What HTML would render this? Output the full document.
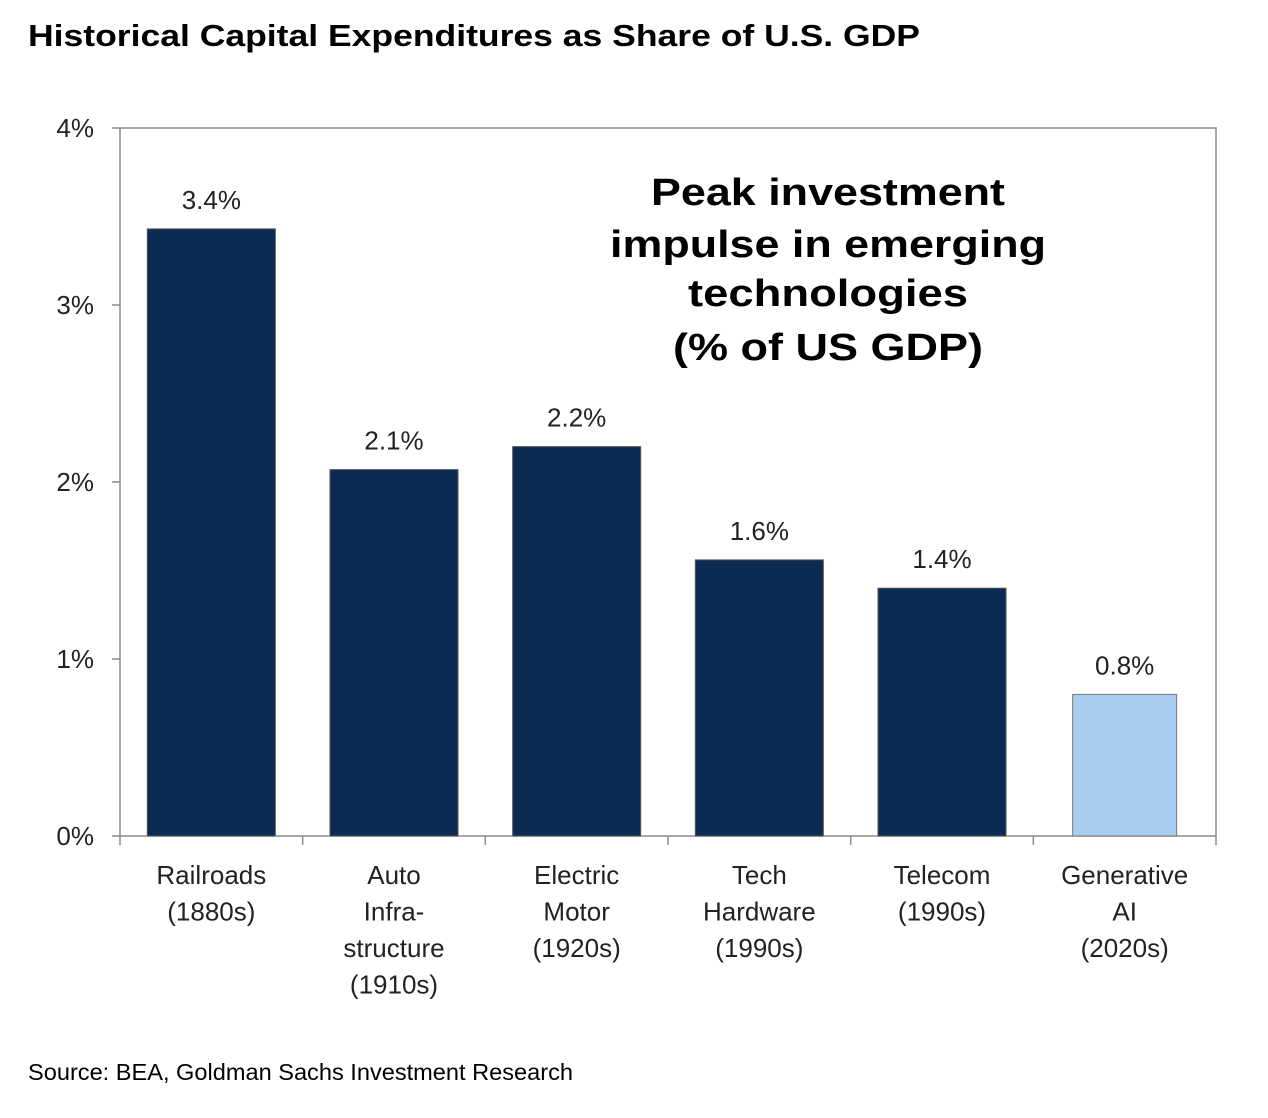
<!DOCTYPE html>
<html><head><meta charset="utf-8"><style>
body{margin:0;background:#fff;width:1268px;height:1118px;overflow:hidden}
svg{display:block}
</style></head><body>
<svg id="chart" width="1268" height="1118" font-family="Liberation Sans, Arial, sans-serif">
<text x="28" y="46" font-size="31" font-weight="bold" fill="#000" textLength="892" lengthAdjust="spacingAndGlyphs">Historical Capital Expenditures as Share of U.S. GDP</text>
<text x="28" y="1080" font-size="23" fill="#000" textLength="545" lengthAdjust="spacingAndGlyphs">Source: BEA, Goldman Sachs Investment Research</text>
<g font-size="38" font-weight="bold" fill="#000" text-anchor="middle">
<text x="828" y="205" textLength="354" lengthAdjust="spacingAndGlyphs">Peak investment</text>
<text x="828" y="257" textLength="436" lengthAdjust="spacingAndGlyphs">impulse in emerging</text>
<text x="828" y="306" textLength="280" lengthAdjust="spacingAndGlyphs">technologies</text>
<text x="828" y="360" textLength="310" lengthAdjust="spacingAndGlyphs">(% of US GDP)</text>
</g>
<g id="plot"></g>
</svg>
<script>
const categories=[["Railroads","(1880s)"],["Auto","Infra-","structure","(1910s)"],["Electric","Motor","(1920s)"],["Tech","Hardware","(1990s)"],["Telecom","(1990s)"],["Generative","AI","(2020s)"]];
const values=[3.43,2.07,2.2,1.56,1.4,0.8];
const valueLabels=["3.4%","2.1%","2.2%","1.6%","1.4%","0.8%"];
const yTicks=[0,1,2,3,4];
const highlight=[false,false,false,false,false,true];

const NS="http://www.w3.org/2000/svg";
const L=120,R=1216,T=128,B=836,yMax=4;
const band=(R-L)/categories.length;
const y=v=>B-(v/yMax)*(B-T);
const xc=i=>L+band*(i+0.5);
const g=document.getElementById('plot');
function mk(tag,attrs,text){const e=document.createElementNS(NS,tag);for(const k in attrs)e.setAttribute(k,attrs[k]);if(text!==undefined)e.textContent=text;g.appendChild(e);return e;}

let f=mk('rect',{x:L,y:T,width:R-L,height:B-T,fill:'none',stroke:'#8c8c8c','stroke-width':1.5});


yTicks.forEach(t=>{
 let tk=mk('line',{x1:L-8,x2:L,y1:y(t),y2:y(t),stroke:'#8c8c8c','stroke-width':1.5});
 
 
 let lb=mk('text',{x:L-26,y:y(t)+9,'font-size':26,'text-anchor':'end',fill:'#222'},t+'%');
 
 
});
for(let i=0;i<=categories.length;i++){
 let tk=mk('line',{x1:L+band*i,x2:L+band*i,y1:B,y2:B+9,stroke:'#8c8c8c','stroke-width':1.5});
 
 
}
values.forEach((v,i)=>{
 const bw=highlight[i]?104:128;
 const cx=xc(i);
 let b=mk('rect',{x:cx-bw/2,y:y(v),width:bw,height:B-y(v),fill:highlight[i]?'#a9cdef':'#0c2b52',stroke:highlight[i]?'#777':'#555','stroke-width':1});
 
 
 let t=mk('text',{x:cx,y:y(v)-20,'font-size':26,'text-anchor':'middle',fill:'#222'},valueLabels[i]);
 
 
 categories[i].forEach((ln,j)=>{
  let c=mk('text',{x:xc(i),y:884+j*36.5,'font-size':26,'text-anchor':'middle',fill:'#222'},ln);
  
  
 });
});
</script>
</body></html>
